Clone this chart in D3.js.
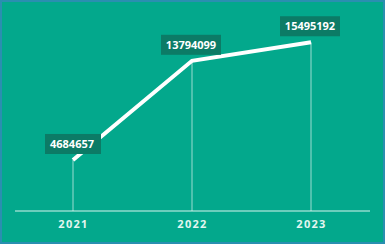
<!DOCTYPE html>
<html>
<head>
<meta charset="utf-8">
<script src="https://cdn.jsdelivr.net/npm/d3@7"></script>
<style>
  body { margin: 0; background: #fff; }
  #chart { width: 385px; height: 244px; }
</style>
</head>
<body>
<div id="chart"></div>
<script>
// Data
const years = ["2021", "2022", "2023"];
const values = [4684657, 13794099, 15495192];

const width = 385;
const height = 244;
const axisY = 211;

const svg = d3.select("#chart")
  .append("svg")
  .attr("width", width)
  .attr("height", height);

// background with thin blue frame
svg.append("rect")
  .attr("x", 0).attr("y", 0)
  .attr("width", width).attr("height", height)
  .attr("fill", "#2a8fb0");
svg.append("rect")
  .attr("x", 2).attr("y", 2)
  .attr("width", width - 4).attr("height", height - 4)
  .attr("fill", "#03a88c");

const x = d3.scalePoint()
  .domain(years)
  .range([73, 311]);

const y = d3.scaleLinear()
  .domain([0, 18000000])
  .range([axisY, 15]);

const data = years.map((d, i) => ({ year: d, value: values[i] }));

// axis
const xAxis = d3.axisBottom(x).tickSize(0).tickPadding(9);
const gx = svg.append("g")
  .attr("transform", `translate(0, ${axisY})`)
  .call(xAxis);
gx.select(".domain").remove();
gx.append("line")
  .attr("x1", 15).attr("x2", 370)
  .attr("stroke", "#d8f3ec")
  .attr("stroke-width", 1);
gx.selectAll(".tick text")
  .attr("fill", "#e2f6f0")
  .attr("font-family", "Open Sans, sans-serif")
  .attr("font-size", "11px")
  .attr("font-weight", "700")
  .attr("letter-spacing", "1.3px");

// drop lines
svg.selectAll(".drop")
  .data(data)
  .enter()
  .append("line")
  .attr("class", "drop")
  .attr("x1", d => x(d.year))
  .attr("x2", d => x(d.year))
  .attr("y1", d => y(d.value))
  .attr("y2", axisY)
  .attr("stroke", "#ffffff")
  .attr("stroke-opacity", 0.6)
  .attr("stroke-width", 1);

// line
const line = d3.line()
  .x(d => x(d.year))
  .y(d => y(d.value));

svg.append("path")
  .datum(data)
  .attr("d", line)
  .attr("fill", "none")
  .attr("stroke", "#ffffff")
  .attr("stroke-width", 4);

// labels
const labels = svg.selectAll(".label")
  .data(data)
  .enter()
  .append("g")
  .attr("class", "label")
  .attr("transform", d => `translate(${x(d.year) - 1}, ${y(d.value) - 16})`);

labels.append("rect")
  .attr("x", d => d.value > 9999999 ? -30 : -27)
  .attr("y", -10)
  .attr("width", d => d.value > 9999999 ? 60 : 56)
  .attr("height", 20)
  .attr("fill", "#0c7b66");

labels.append("text")
  .attr("text-anchor", "middle")
  .attr("dy", "0.36em")
  .attr("fill", "#ffffff")
  .attr("font-family", "Open Sans, sans-serif")
  .attr("font-size", "11px")
  .attr("font-weight", "700")
  .text(d => d.value);
</script>
</body>
</html>
